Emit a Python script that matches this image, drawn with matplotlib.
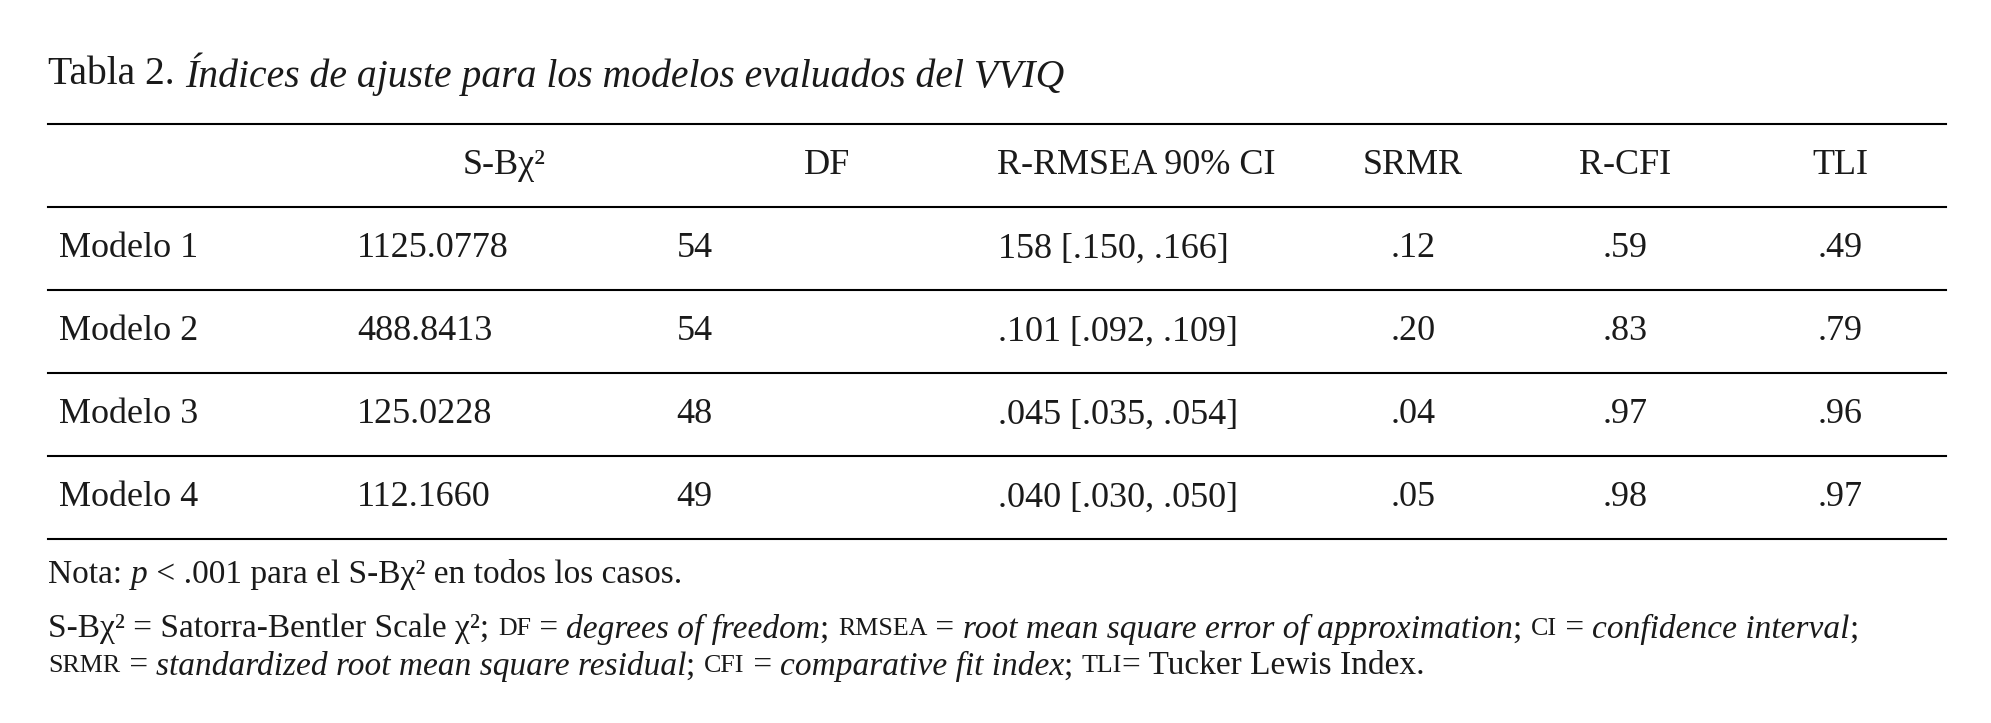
import matplotlib
matplotlib.use("Agg")
import matplotlib.pyplot as plt

plt.rcParams['font.family'] = ['Liberation Serif', 'DejaVu Serif']

# Datos de la tabla
headers = ["S-Bχ²", "DF", "R-RMSEA 90% CI", "SRMR", "R-CFI", "TLI"]
modelos = ["Modelo 1", "Modelo 2", "Modelo 3", "Modelo 4"]
chi2 = ["1125.0778", "488.8413", "125.0228", "112.1660"]
df = ["54", "54", "48", "49"]
rmsea = ["158 [.150, .166]", ".101 [.092, .109]", ".045 [.035, .054]", ".040 [.030, .050]"]
srmr = [".12", ".20", ".04", ".05"]
cfi = [".59", ".83", ".97", ".98"]
tli = [".49", ".79", ".96", ".97"]

W, H = 1991, 723
S = W / 1560.0
fig = plt.figure(figsize=(W / 100, H / 100), dpi=100)
fig.patch.set_facecolor("white")

def P(x, y):
    return x * S / W, 1 - y * S / H

def txt(x, y, s, **kw):
    kw.setdefault("fontsize", 26)
    kw.setdefault("va", "center")
    return fig.text(*P(x, y), s, color="#1a1a1a", **kw)

def hline(y, lw=1.5):
    x0, yy = P(38, y)
    x1, _ = P(1525, y)
    fig.add_artist(plt.Line2D([x0, x1], [yy, yy], color="black", lw=lw, transform=fig.transFigure))

fig.canvas.draw()
r = fig.canvas.get_renderer()

def seq(x, y, parts, base=24):
    for s, kind in parts:
        kw = {"fontsize": base}
        if kind == "i":
            kw["style"] = "italic"
        elif kind == "sc":
            kw["fontsize"] = base * 0.78
        t = txt(x, y, s, **kw)
        x += t.get_window_extent(r).width / S

# Titulo
seq(38, 58, [("Tabla 2. ", "n"), ("Índices de ajuste para los modelos evaluados del VVIQ", "i")], base=28.5)

for y in [97, 162, 227, 292, 357, 422]:
    hline(y)

hx = [395, 648, 890, 1107, 1273, 1442]
for x, h in zip(hx, headers):
    txt(x, 130, h, ha="center")

rows_y = [195, 260, 325, 390]
for i, y in enumerate(rows_y):
    txt(46, y, modelos[i])
    txt(280, y, chi2[i])
    txt(530, y, df[i])
    txt(782, y, rmsea[i])
    txt(1107, y, srmr[i], ha="center")
    txt(1273, y, cfi[i], ha="center")
    txt(1442, y, tli[i], ha="center")

seq(38, 450, [("Nota: ", "n"), ("p", "i"), (" < .001 para el S-Bχ² en todos los casos.", "n")])
seq(38, 493, [("S-Bχ² = Satorra-Bentler Scale χ²; ", "n"), ("DF", "sc"), (" = ", "n"),
              ("degrees of freedom", "i"), ("; ", "n"), ("RMSEA", "sc"), (" = ", "n"),
              ("root mean square error of approximation", "i"), ("; ", "n"), ("CI", "sc"),
              (" = ", "n"), ("confidence interval", "i"), (";", "n")])
seq(38, 522, [("SRMR", "sc"), (" = ", "n"), ("standardized root mean square residual", "i"),
              ("; ", "n"), ("CFI", "sc"), (" = ", "n"), ("comparative fit index", "i"),
              ("; ", "n"), ("TLI", "sc"), ("= Tucker Lewis Index.", "n")])

fig.savefig("out.png", dpi=100)
